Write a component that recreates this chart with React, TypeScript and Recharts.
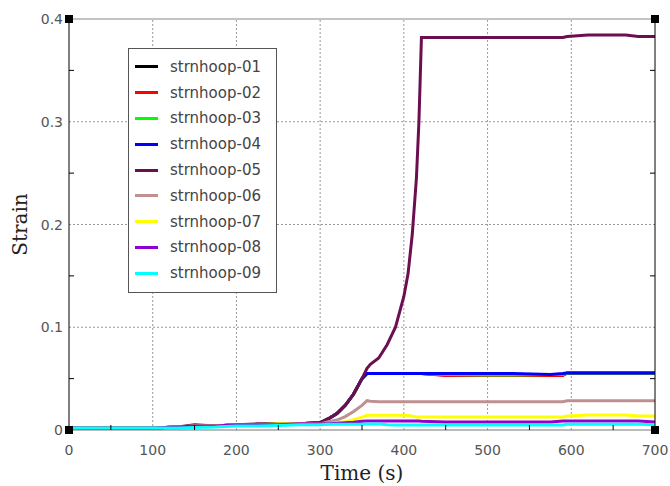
import React from 'react';
import {
  LineChart,
  Line,
  XAxis,
  YAxis,
  ReferenceLine,
  ReferenceDot,
  Legend,
} from 'recharts';

// ---------------------------------------------------------------------------
// Data
// ---------------------------------------------------------------------------
const TIME = [
  0, 50, 100, 130, 150, 175, 200, 225, 250, 275, 300, 310, 320, 330, 340, 350,
  356, 360, 370, 380, 390, 400, 405, 410, 415, 418, 421, 450, 500, 530, 575,
  590, 595, 620, 665, 680, 700,
];

const HOOP_01 = [
  0.002, 0.002, 0.002, 0.003, 0.004, 0.004, 0.005, 0.005, 0.006, 0.006, 0.007,
  0.011, 0.016, 0.024, 0.035, 0.05, 0.055, 0.055, 0.055, 0.055, 0.055, 0.055,
  0.055, 0.055, 0.055, 0.055, 0.055, 0.0535, 0.0535, 0.0535, 0.0535, 0.0535,
  0.0555, 0.0555, 0.0555, 0.0555, 0.0555,
];
const HOOP_02 = [
  0.002, 0.002, 0.002, 0.003, 0.004, 0.004, 0.005, 0.005, 0.006, 0.006, 0.007,
  0.011, 0.016, 0.024, 0.035, 0.05, 0.055, 0.055, 0.055, 0.055, 0.055, 0.055,
  0.055, 0.055, 0.055, 0.055, 0.055, 0.053, 0.053, 0.053, 0.053, 0.053,
  0.0555, 0.0555, 0.0555, 0.0555, 0.0555,
];
const HOOP_03 = [
  0.002, 0.002, 0.002, 0.003, 0.004, 0.004, 0.005, 0.005, 0.006, 0.006, 0.007,
  0.011, 0.016, 0.024, 0.035, 0.05, 0.055, 0.055, 0.055, 0.055, 0.055, 0.055,
  0.055, 0.055, 0.055, 0.055, 0.055, 0.054, 0.0535, 0.0535, 0.054, 0.054,
  0.0555, 0.0555, 0.0555, 0.0555, 0.0555,
];
const HOOP_04 = [
  0.002, 0.002, 0.002, 0.003, 0.004, 0.004, 0.005, 0.005, 0.006, 0.006, 0.007,
  0.011, 0.016, 0.024, 0.035, 0.05, 0.055, 0.055, 0.055, 0.055, 0.055, 0.055,
  0.055, 0.055, 0.055, 0.055, 0.055, 0.055, 0.055, 0.055, 0.054, 0.055,
  0.0555, 0.0555, 0.0555, 0.0555, 0.0555,
];
const HOOP_05 = [
  0.002, 0.002, 0.002, 0.003, 0.005, 0.004, 0.005, 0.006, 0.006, 0.006, 0.007,
  0.011, 0.016, 0.024, 0.035, 0.05, 0.06, 0.064, 0.07, 0.083, 0.1, 0.13,
  0.152, 0.19, 0.245, 0.3, 0.382, 0.382, 0.382, 0.382, 0.382, 0.382, 0.383,
  0.3845, 0.3845, 0.383, 0.383,
];
const HOOP_06 = [
  0.002, 0.002, 0.002, 0.003, 0.004, 0.004, 0.005, 0.005, 0.005, 0.006, 0.006,
  0.008, 0.0097, 0.013, 0.018, 0.024, 0.0285, 0.028, 0.0276, 0.0276, 0.0276,
  0.0276, 0.0276, 0.0276, 0.0276, 0.0276, 0.0276, 0.0276, 0.0276, 0.0276,
  0.0276, 0.0276, 0.0285, 0.0285, 0.0285, 0.0285, 0.0285,
];
const HOOP_07 = [
  0.002, 0.002, 0.002, 0.003, 0.004, 0.004, 0.005, 0.005, 0.006, 0.006, 0.006,
  0.006, 0.007, 0.008, 0.01, 0.0125, 0.0143, 0.0143, 0.0143, 0.0143, 0.0143,
  0.0143, 0.0143, 0.0135, 0.0126, 0.0126, 0.0126, 0.0126, 0.0126, 0.0126,
  0.0126, 0.0126, 0.0136, 0.0146, 0.0146, 0.0136, 0.0136,
];
const HOOP_08 = [
  0.002, 0.002, 0.002, 0.003, 0.004, 0.004, 0.005, 0.005, 0.005, 0.006, 0.006,
  0.006, 0.0065, 0.007, 0.0075, 0.0085, 0.0088, 0.0088, 0.0088, 0.0088, 0.0088,
  0.0088, 0.0088, 0.0088, 0.0088, 0.0088, 0.0085, 0.0078, 0.0078, 0.0078,
  0.0078, 0.0088, 0.0088, 0.0088, 0.0088, 0.0088, 0.0078,
];
const HOOP_09 = [
  0.002, 0.002, 0.002, 0.002, 0.0025, 0.003, 0.004, 0.004, 0.0045, 0.005,
  0.005, 0.0055, 0.0055, 0.0055, 0.0055, 0.0055, 0.0058, 0.0058, 0.0058, 0.005,
  0.0049, 0.0049, 0.0049, 0.0049, 0.0049, 0.0049, 0.0049, 0.0049, 0.0049,
  0.0049, 0.0049, 0.0049, 0.0055, 0.0055, 0.0055, 0.0055, 0.005,
];

const SERIES_NAMES = [
  'strnhoop-01', 'strnhoop-02', 'strnhoop-03', 'strnhoop-04', 'strnhoop-05',
  'strnhoop-06', 'strnhoop-07', 'strnhoop-08', 'strnhoop-09',
];
const SERIES_VALUES = [
  HOOP_01, HOOP_02, HOOP_03, HOOP_04, HOOP_05, HOOP_06, HOOP_07, HOOP_08, HOOP_09,
];
const SERIES_COLORS = [
  '#000000', '#ff0000', '#00ff00', '#0000ff', '#6b0f50',
  '#c09090', '#ffff00', '#9000d0', '#00ffff',
];

const X_TICKS = [0, 50, 100, 150, 200, 250, 300, 350, 400, 450, 500, 550, 600, 650, 700];
const Y_TICKS = [0, 0.05, 0.1, 0.15, 0.2, 0.25, 0.3, 0.35, 0.4];
const X_GRID = [100, 200, 300, 400, 500, 600];
const Y_GRID = [0.1, 0.2, 0.3];
const CORNERS = [
  { x: 0, y: 0 },
  { x: 0, y: 0.4 },
  { x: 700, y: 0 },
  { x: 700, y: 0.4 },
];

// ---------------------------------------------------------------------------
// Styling
// ---------------------------------------------------------------------------
const SANS = '"DejaVu Sans", sans-serif';
const SERIF = '"DejaVu Serif", serif';
const TICK_COLOR = '#555';
const GRID_COLOR = '#999';

const chartData = TIME.map((t, i) => {
  const row: Record<string, number> = { t };
  SERIES_NAMES.forEach((name, k) => {
    row[name] = SERIES_VALUES[k][i];
  });
  return row;
});

const isMajorX = (v: number) => v % 100 === 0;
const isMajorY = (v: number) => Math.abs(Math.round(v * 10) - v * 10) < 1e-6;

// Bottom axis: labels at hundreds, small inward ticks at fifties
function BottomTick(props: any) {
  const { x, y, payload } = props;
  const v = payload.value as number;
  if (isMajorX(v)) {
    return (
      <text x={x} y={y + 25} textAnchor="middle" fontFamily={SANS} fontSize={14} fill={TICK_COLOR}>
        {v}
      </text>
    );
  }
  return <line x1={x} x2={x} y1={y} y2={y - 5} stroke="#000" strokeWidth={1} />;
}

function TopTick(props: any) {
  const { x, y, payload } = props;
  if (isMajorX(payload.value)) return <g />;
  return <line x1={x} x2={x} y1={y} y2={y + 5} stroke="#000" strokeWidth={1} />;
}

function LeftTick(props: any) {
  const { x, y, payload } = props;
  const v = payload.value as number;
  if (isMajorY(v)) {
    return (
      <text x={x - 6} y={y + 5} textAnchor="end" fontFamily={SANS} fontSize={14} fill={TICK_COLOR}>
        {v === 0 ? '0' : v.toFixed(1)}
      </text>
    );
  }
  return <line x1={x} x2={x + 5} y1={y} y2={y} stroke="#000" strokeWidth={1} />;
}

function RightTick(props: any) {
  const { x, y, payload } = props;
  if (isMajorY(payload.value)) return <g />;
  return <line x1={x} x2={x - 5} y1={y} y2={y} stroke="#000" strokeWidth={1} />;
}

function CornerSquare(props: any) {
  const { cx, cy } = props;
  return <rect x={cx - 4} y={cy - 4} width={8} height={8} fill="#000" />;
}

function LegendBox() {
  return (
    <div
      style={{
        width: 147,
        height: 238,
        border: '1px solid #555',
        background: '#fff',
        paddingTop: 5,
        boxSizing: 'content-box',
      }}
    >
      {SERIES_NAMES.map((name, k) => (
        <div
          key={name}
          style={{ display: 'flex', alignItems: 'center', height: 25.8 }}
        >
          <div
            style={{
              width: 23,
              height: 3,
              marginLeft: 6,
              marginRight: 12,
              background: SERIES_COLORS[k],
            }}
          />
          <span style={{ fontFamily: SANS, fontSize: 15, color: '#444' }}>{name}</span>
        </div>
      ))}
    </div>
  );
}

export default function App() {
  return (
    <div style={{ position: 'absolute', left: 0, top: 0, background: '#fff' }}>
      <LineChart
        width={670}
        height={486}
        data={chartData}
        margin={{ top: 0, right: 0, bottom: 0, left: 0 }}
      >
        <XAxis
          dataKey="t"
          type="number"
          domain={[0, 700]}
          ticks={X_TICKS}
          interval={0}
          height={56}
          tickSize={0}
          tickMargin={0}
          tickLine={false}
          axisLine={{ stroke: '#777' }}
          tick={<BottomTick />}
          label={{
            value: 'Time (s)',
            position: 'insideBottom',
            offset: 6,
            fontFamily: SERIF,
            fontSize: 20,
            fill: '#222',
          }}
        />
        <XAxis
          xAxisId="top"
          orientation="top"
          type="number"
          domain={[0, 700]}
          allowDataOverflow
          ticks={X_TICKS}
          interval={0}
          height={19}
          tickSize={0}
          tickMargin={0}
          tickLine={false}
          axisLine={{ stroke: '#888' }}
          tick={<TopTick />}
        />
        <YAxis
          type="number"
          domain={[0, 0.4]}
          ticks={Y_TICKS}
          interval={0}
          width={69}
          tickSize={0}
          tickMargin={0}
          tickLine={false}
          axisLine={{ stroke: '#000' }}
          tick={<LeftTick />}
          label={{
            value: 'Strain',
            angle: -90,
            position: 'insideLeft',
            offset: 20,
            fontFamily: SERIF,
            fontSize: 20,
            fill: '#222',
            style: { textAnchor: 'middle' },
          }}
        />
        <YAxis
          yAxisId="right"
          orientation="right"
          type="number"
          domain={[0, 0.4]}
          allowDataOverflow
          ticks={Y_TICKS}
          interval={0}
          width={15}
          tickSize={0}
          tickMargin={0}
          tickLine={false}
          axisLine={{ stroke: '#000' }}
          tick={<RightTick />}
        />

        {X_GRID.map((v) => (
          <ReferenceLine key={`gx${v}`} x={v} stroke={GRID_COLOR} strokeDasharray="2 2" />
        ))}
        {Y_GRID.map((v) => (
          <ReferenceLine key={`gy${v}`} y={v} stroke={GRID_COLOR} strokeDasharray="2 2" />
        ))}

        {SERIES_NAMES.map((name, k) => (
          <Line
            key={name}
            dataKey={name}
            name={name}
            type="linear"
            stroke={SERIES_COLORS[k]}
            strokeWidth={3}
            dot={false}
            activeDot={false}
            isAnimationActive={false}
          />
        ))}

        {CORNERS.map((c, i) => (
          <ReferenceDot
            key={`c${i}`}
            x={c.x}
            y={c.y}
            ifOverflow="visible"
            shape={<CornerSquare />}
          />
        ))}

        <Legend
          layout="vertical"
          align="center"
          verticalAlign="middle"
          wrapperStyle={{ left: 128, top: 48, width: 149 }}
          content={<LegendBox />}
        />
      </LineChart>
    </div>
  );
}
